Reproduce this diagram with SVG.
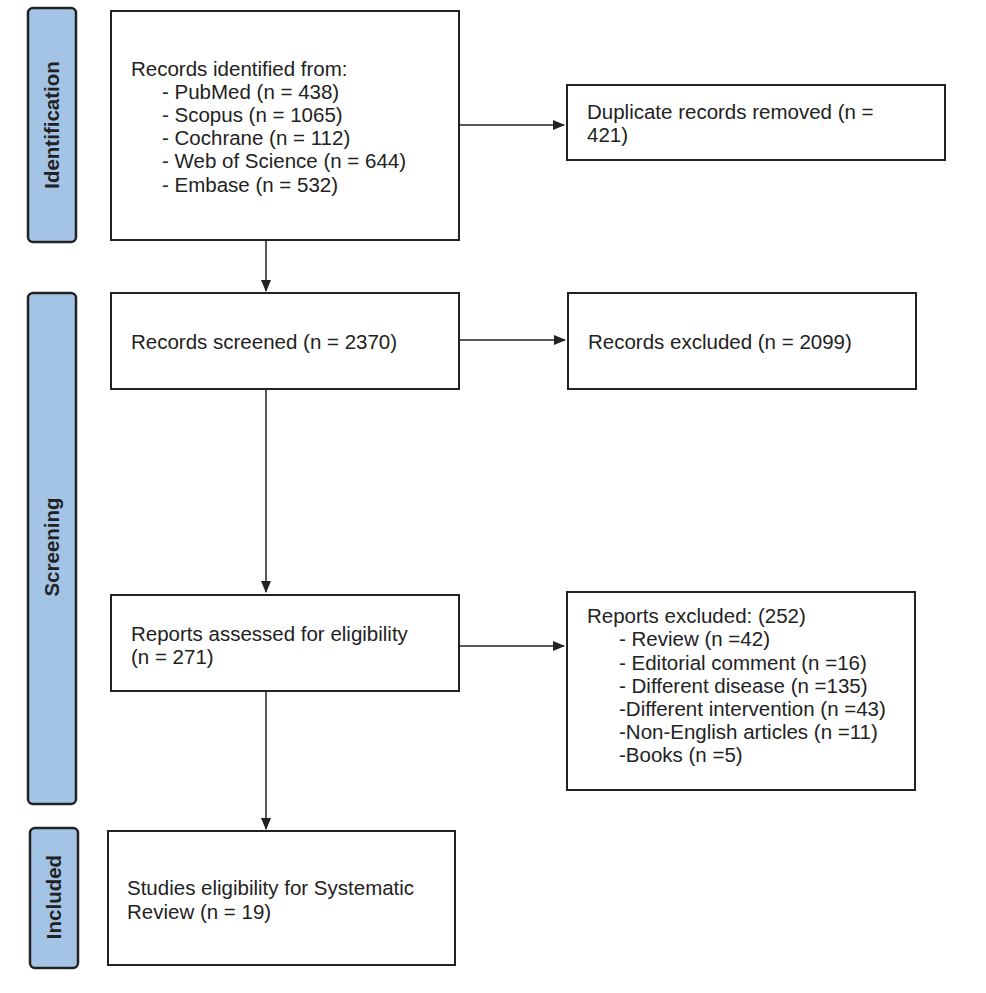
<svg xmlns="http://www.w3.org/2000/svg" width="986" height="993" viewBox="0 0 986 993">
<style>
.bar{fill:#a4c4e6;stroke:#222;stroke-width:2.5}
.box{fill:#fff;stroke:#222;stroke-width:2}
text{font-family:"Liberation Sans",Arial,sans-serif;font-size:20.5px;fill:#222}
.lab{font-weight:bold;font-size:20.5px}
.c{stroke:#222;stroke-width:1.5;fill:none;marker-end:url(#a)}
</style>
<defs><marker id="a" markerWidth="12" markerHeight="10" refX="11" refY="5" orient="auto" markerUnits="userSpaceOnUse"><path d="M0,0 L12,5 L0,10 z" fill="#222"/></marker></defs>
<rect width="986" height="993" fill="#fff"/>
<g id="bar-identification"><rect class="bar" x="28" y="8" width="48" height="234" rx="5"/><text class="lab" transform="translate(59,125) rotate(-90)" text-anchor="middle">Identification</text></g>
<g id="bar-screening"><rect class="bar" x="28" y="293" width="48" height="511" rx="5"/><text class="lab" transform="translate(59,547) rotate(-90)" text-anchor="middle">Screening</text></g>
<g id="bar-included"><rect class="bar" x="30" y="828" width="48" height="140" rx="5"/><text class="lab" transform="translate(61,897) rotate(-90)" text-anchor="middle">Included</text></g>
<g id="identified"><rect class="box" x="111" y="11" width="348" height="229"/>
<text x="131" y="76">Records identified from:</text>
<text x="162" y="99">- PubMed (n = 438)</text>
<text x="162" y="122">- Scopus (n = 1065)</text>
<text x="162" y="145">- Cochrane (n = 112)</text>
<text x="162" y="168">- Web of Science (n = 644)</text>
<text x="162" y="192">- Embase (n = 532)</text></g>
<g id="duplicates"><rect class="box" x="567" y="85" width="378" height="75"/>
<text x="587" y="119">Duplicate records removed (n =</text><text x="587" y="142">421)</text></g>
<g id="screened"><rect class="box" x="111" y="293" width="348" height="96"/><text x="131" y="349">Records screened (n = 2370)</text></g>
<g id="excluded"><rect class="box" x="568" y="293" width="348" height="96"/><text x="588" y="349">Records excluded (n = 2099)</text></g>
<g id="assessed"><rect class="box" x="111" y="595" width="348" height="96"/><text x="131" y="641">Reports assessed for eligibility</text><text x="131" y="664">(n = 271)</text></g>
<g id="reports-excluded"><rect class="box" x="567" y="592" width="348" height="198"/>
<text x="587" y="623">Reports excluded: (252)</text>
<text x="619" y="646">- Review (n =42)</text>
<text x="619" y="670">- Editorial comment (n =16)</text>
<text x="619" y="693">- Different disease (n =135)</text>
<text x="619" y="716">-Different intervention (n =43)</text>
<text x="619" y="739">-Non-English articles (n =11)</text>
<text x="619" y="762">-Books (n =5)</text></g>
<g id="included"><rect class="box" x="108" y="831" width="347" height="134"/><text x="127" y="895">Studies eligibility for Systematic</text><text x="127" y="919">Review (n = 19)</text></g>
<g id="connectors">
<path class="c" d="M266,240 V291"/>
<path class="c" d="M459,125 H564"/>
<path class="c" d="M266,389 V592"/>
<path class="c" d="M459,340 H565"/>
<path class="c" d="M459,646 H564"/>
<path class="c" d="M266,691 V829"/>
</g>
</svg>
